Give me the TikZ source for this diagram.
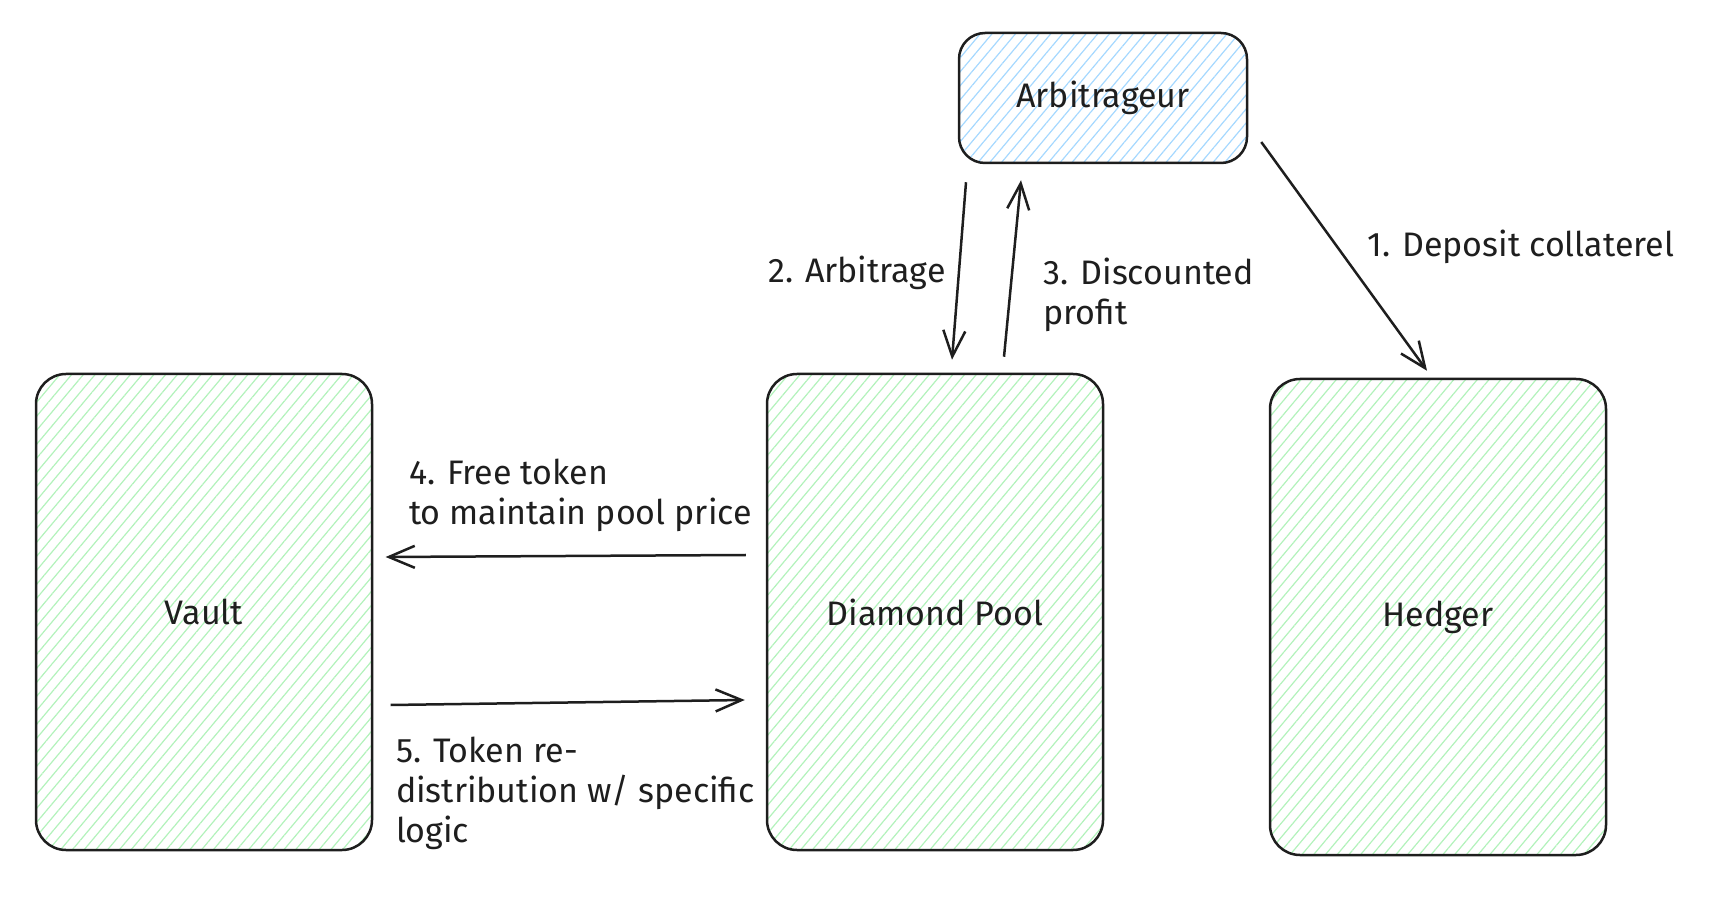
\documentclass[tikz,border=0pt]{standalone}
\usepackage{fontspec}
\setmainfont{Fira Sans}
\usepackage{xcolor}
\usepackage{tikz}
\usetikzlibrary{positioning, calc, arrows.meta, patterns.meta}

\definecolor{ink}{HTML}{1E1E1E}
\definecolor{hatchgreen}{HTML}{B2F2BB}
\definecolor{hatchblue}{HTML}{A5D8FF}

\begin{document}
\begin{tikzpicture}[x=0.5pt, y=-0.5pt,
        box/.style={draw=ink, line width=1.25pt, rounded corners=15pt,
            minimum width=168pt, minimum height=238pt, text=ink,
            pattern={Lines[angle=50, distance=4.5pt, line width=0.6pt]},
            pattern color=hatchgreen, font=\fontsize{17}{20}\selectfont},
        arr/.style={draw=ink, line width=1.25pt,
            -{Straight Barb[length=13pt, width=11pt]}},
        lbl/.style={font=\fontsize{17}{20}\selectfont, text=ink,
            inner sep=0pt, align=left}]
        \useasboundingbox (0,0) rectangle (1718,908);
        \node [box] (vault) at (204,612) {Vault};
        \node [box] (pool) at (935,612) {Diamond Pool};
        \node [box] (hedger) at (1438,617) {Hedger};
        \node [box, minimum width=144pt, minimum height=65pt,
            rounded corners=13pt, pattern color=hatchblue] (arb) at (1103,98)
        {Arbitrageur};
        \draw [arr] ($(arb.east) + (13,44)$) -- ($(hedger.north) + (-11,-7)$);
        \draw [arr] ($(arb.south) + (-137,18)$) -- ($(pool.north) + (17,-13)$);
        \draw [arr] ($(pool.north) + (69,-16)$) -- ($(arb.south) + (-82,16)$);
        \draw [arr] ($(pool.west) + (-20,-57)$) -- ($(vault.east) + (13,-55)$);
        \draw [arr] ($(vault.east) + (18,93)$) -- ($(pool.west) + (-21,88)$);
        \node [lbl, anchor=west] (l1) at ($(hedger.north) + (-71,-131)$)
        {1. Deposit collaterel};
        \node [lbl, anchor=east] (l2) at ($(pool.north) + (11,-100)$)
        {2. Arbitrage};
        \node [lbl, anchor=west] (l3) at ($(pool.north) + (108,-78)$)
        {3. Discounted\\profit};
        \node [lbl, anchor=west] (l4) at ($(vault.east) + (36,-117)$)
        {4. Free token\\to maintain pool price};
        \node [lbl, anchor=west] (l5) at ($(vault.east) + (23,181)$)
        {5. Token re-\\distribution w/ specific\\logic};
    \end{tikzpicture}
\end{document}
